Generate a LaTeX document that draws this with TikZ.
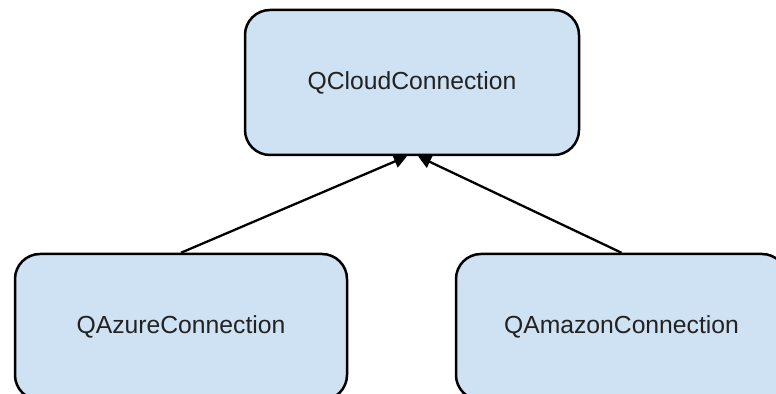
\documentclass[tikz,border=0pt]{standalone}
\usepackage{fontspec}
\setmainfont{Liberation Sans}
\usepackage{xcolor}
\usepackage{tikz}
\usetikzlibrary{positioning,shapes,arrows.meta}

\definecolor{boxfill}{HTML}{CFE2F3}
\definecolor{boxtext}{HTML}{222222}

\tikzset{
  classbox/.style={draw=black, fill=boxfill, line width=1.25pt,
    rounded corners=12.5pt, inner sep=0pt,
    text=boxtext, font=\fontsize{12.35}{15}\selectfont},
  inherit/.style={line width=1.15pt, -{Triangle[length=6.5pt,width=6.5pt]}}
}

\begin{document}
\begin{tikzpicture}[x=0.5pt,y=-0.5pt]

\useasboundingbox (0,0) rectangle (776,394);
\clip (0,0) rectangle (776,394);

% Base class
\node[classbox, minimum width=167pt, minimum height=72.5pt] (cloud) at (412,82.5) {QCloudConnection};

% Derived classes
\node[classbox, minimum width=166pt, minimum height=73pt] (azure) at (181,327) {QAzureConnection};
\node[classbox, minimum width=165.5pt, minimum height=73pt] (amazon) at (621.5,327) {QAmazonConnection};

% Inheritance arrows
\draw[inherit] (azure.north) -- ([xshift=-2.5pt]cloud.south);
\draw[inherit] (amazon.north) -- ([xshift=3pt]cloud.south);

\end{tikzpicture}
\end{document}
